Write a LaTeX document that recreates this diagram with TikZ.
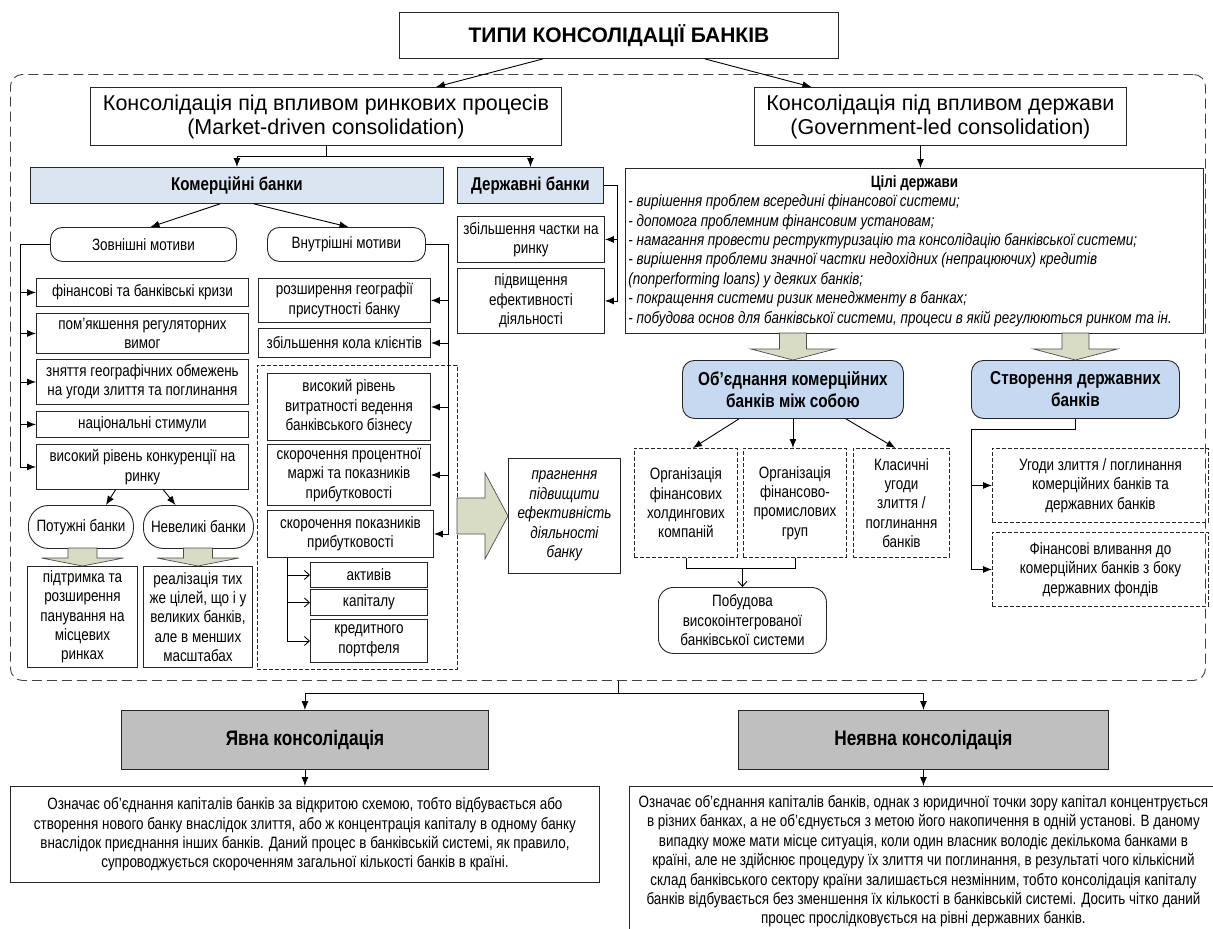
\documentclass[tikz,border=0pt]{standalone}
\usepackage{fontspec}
\setmainfont{Liberation Sans}[FakeStretch=0.82]
\newfontfamily\wideface{Liberation Sans}
\usepackage{tikz}
\usetikzlibrary{positioning}
\usetikzlibrary{arrows.meta}
\definecolor{bankblue}{RGB}{219,229,241}
\definecolor{unionblue}{RGB}{198,217,241}
\definecolor{kindgray}{RGB}{191,191,191}
\definecolor{blockgreen}{RGB}{216,220,196}
\newcommand\bodysize{\fontsize{16.4}{19.4}\selectfont}
\tikzset{arr/.style = {-{Latex[length=9pt,width=7pt]}}}
\tikzset{openarr/.style = {-{Straight Barb[length=5pt,width=9pt]}}}
\tikzset{blk/.style = {draw=black!70,fill=blockgreen,line width=0.7pt}}

\begin{document}
\begin{tikzpicture}[x=1pt,y=-1pt,line width=0.9pt,
    every node/.style={font=\bodysize},
    box/.style={draw=black!85,anchor=north west,align=center,inner sep=1.5pt},
    motive/.style={box,rounded corners=12pt},
    dashbox/.style={box,dash pattern=on 4pt off 2pt},
    bankbox/.style={box,fill=bankblue,font=\bfseries\fontsize{18.5}{22}\selectfont},
    unionbox/.style={box,rounded corners=12pt,fill=unionblue,font=\bfseries\fontsize{18.7}{22}\selectfont},
    kindbox/.style={box,fill=kindgray,font=\bfseries\fontsize{21}{24}\selectfont},
    wide/.style={font=\wideface\fontsize{21.5}{24}\selectfont}]
\useasboundingbox (0,0) rectangle (1213,929);

% outer frame
\node[draw=black!75,dash pattern=on 10pt off 5pt,rounded corners=12pt,anchor=north west,
      minimum width=1195,minimum height=606] (frame) at (10,74) {};

% top level
\node[box,minimum width=439,minimum height=46,font=\wideface\bfseries\fontsize{21}{24}\selectfont] (title) at (399,12) {ТИПИ КОНСОЛІДАЦІЇ БАНКІВ};
\node[box,wide,minimum width=471,minimum height=58] (market) at (90,87) {Консолідація під впливом ринкових процесів\\(Market-driven consolidation)};
\node[box,wide,minimum width=372,minimum height=58] (gov) at (754,87) {Консолідація під впливом держави\\(Government-led consolidation)};

% market-driven side
\node[bankbox,minimum width=413,minimum height=36] (commercial) at (30,167) {Комерційні банки};
\node[bankbox,minimum width=146,minimum height=36] (state) at (457,167) {Державні банки};

\node[motive,minimum width=186,minimum height=34] (outer) at (50,227) {Зовнішні мотиви};
\node[motive,minimum width=158,minimum height=34] (inner) at (267,227) {Внутрішні мотиви};

\node[box,minimum width=212,minimum height=28] (crisis) at (36,278) {фінансові та банківські кризи};
\node[box,minimum width=212,minimum height=40] (soften) at (36,313) {пом’якшення регуляторних\\вимог};
\node[box,minimum width=212,minimum height=45] (geo) at (36,359) {зняття географічних обмежень\\на угоди злиття та поглинання};
\node[box,minimum width=212,minimum height=26] (stimul) at (36,411) {національні стимули};
\node[box,minimum width=212,minimum height=45] (compet) at (36,444) {високий рівень конкуренції на\\ринку};

\node[motive,rounded corners=20pt,minimum width=105,minimum height=43] (strong) at (28,505) {Потужні банки};
\node[motive,rounded corners=20pt,minimum width=110,minimum height=43] (small) at (143,505) {Невеликі банки};
\node[box,minimum width=110,minimum height=101] (support) at (27,566) {підтримка та\\розширення\\панування на\\місцевих\\ринках};
\node[box,minimum width=109,minimum height=101] (same) at (143,566) {реалізація тих\\же цілей, що і у\\великих банків,\\але в менших\\масштабах};

\node[box,minimum width=172,minimum height=44] (expand) at (258,278) {розширення географії\\присутності банку};
\node[box,minimum width=172,minimum height=29] (clients) at (258,328) {збільшення кола клієнтів};
\node[dashbox,minimum width=200,minimum height=304] (costzone) at (257,365) {};
\node[box,minimum width=163,minimum height=67] (costs) at (267,373) {високий рівень\\витратності ведення\\банківського бізнесу};
\node[box,minimum width=163,minimum height=61] (margin) at (267,444) {скорочення процентної\\маржі та показників\\прибутковості};
\node[box,minimum width=166,minimum height=47] (profit) at (267,510) {скорочення показників\\прибутковості};
\node[box,minimum width=117,minimum height=25] (assets) at (310,562) {активів};
\node[box,minimum width=117,minimum height=26] (capital) at (310,589) {капіталу};
\node[box,minimum width=117,minimum height=43] (credit) at (310,619) {кредитного\\портфеля};

\node[box,minimum width=147,minimum height=46] (share) at (457,216) {збільшення частки на\\ринку};
\node[box,minimum width=147,minimum height=65] (effic) at (457,268) {підвищення\\ефективності\\діяльності};

\node[box,minimum width=112,minimum height=115,font=\bodysize\itshape] (aim) at (508,458) {прагнення\\підвищити\\ефективність\\діяльності\\банку};

% government-led side
\node[box,minimum width=578,minimum height=165,text width=572,align=flush left,inner sep=3pt] (goals) at (625,168)
  {\makebox[572pt]{\bfseries Цілі держави}\\\itshape
   - вирішення проблем всередині фінансової системи;\\
   - допомога проблемним фінансовим установам;\\
   - намагання провести реструктуризацію та консолідацію банківської системи;\\
   - вирішення проблеми значної частки недохідних (непрацюючих) кредитів\\
   (nonperforming loans) у деяких банків;\\
   - покращення системи ризик менеджменту в банках;\\
   - побудова основ для банківської системи, процеси в якій регулюються ринком та ін.};

\node[unionbox,minimum width=221,minimum height=58] (union) at (682,360) {Об'єднання комерційних\\банків між собою};
\node[unionbox,minimum width=208,minimum height=58] (create) at (971,360) {Створення державних\\банків};

\node[dashbox,minimum width=103,minimum height=109] (holding) at (634,448) {Організація\\фінансових\\холдингових\\компаній};
\node[dashbox,minimum width=103,minimum height=109] (fig) at (743,448) {Організація\\фінансово-\\промислових\\груп};
\node[dashbox,minimum width=96,minimum height=109] (classic) at (853,448) {Класичні\\угоди\\злиття /\\поглинання\\банків};
\node[box,rounded corners=15pt,minimum width=168,minimum height=66] (build) at (658,587) {Побудова\\високоінтегрованої\\банківської системи};
\node[dashbox,minimum width=216,minimum height=74] (deals) at (992,448) {Угоди злиття / поглинання\\комерційних банків та\\державних банків};
\node[dashbox,minimum width=216,minimum height=74] (inject) at (992,532) {Фінансові вливання до\\комерційних банків з боку\\державних фондів};

% explicit / implicit
\node[kindbox,minimum width=367,minimum height=59] (explicit) at (121,710) {Явна консолідація};
\node[kindbox,minimum width=370,minimum height=59] (implicit) at (738,710) {Неявна консолідація};
\node[box,minimum width=589,minimum height=96] (expltext) at (10,786)
  {Означає об’єднання капіталів банків за відкритою схемою, тобто відбувається або\\
   створення нового банку внаслідок злиття, або ж концентрація капіталу в одному банку\\
   внаслідок приєднання інших банків. Даний процес в банківській системі, як правило,\\
   супроводжується скороченням загальної кількості банків в країні.};
\node[box,minimum width=588,minimum height=150] (impltext) at (629,786)
  {Означає об’єднання капіталів банків, однак з юридичної точки зору капітал концентрується\\
   в різних банках, а не об’єднується з метою його накопичення в одній установі. В даному\\
   випадку може мати місце ситуація, коли один власник володіє декількома банками в\\
   країні, але не здійснює процедуру їх злиття чи поглинання, в результаті чого кількісний\\
   склад банківського сектору країни залишається незмінним, тобто консолідація капіталу\\
   банків відбувається без зменшення їх кількості в банківській системі. Досить чітко даний\\
   процес прослідковується на рівні державних банків.};

% connectors
\draw[arr] ([xshift=-76]title.south) -- ([xshift=110]market.north);
\draw[arr] ([xshift=86]title.south) -- ([xshift=-129]gov.north);
\draw (market.south) -- ++(0,11) coordinate (mk);
\draw[arr] (mk) -| (commercial.north);
\draw[arr] (mk) -| (state.north);
\draw[arr] ([xshift=-20]gov.south) -- ([xshift=-20]gov.south |- goals.north);

\draw[arr] ([xshift=-17]commercial.south) -- ([xshift=7]outer.north);
\draw[arr] ([xshift=17]commercial.south) -- ([xshift=2]inner.north);

\draw (outer.west) -- ++(-30,0) coordinate (ol) -- (ol |- compet.west);
\foreach \n in {crisis,soften,geo,stimul,compet}
  \draw[arr] (ol |- \n.west) -- (\n.west);

\draw (inner.east) -- ++(23,0) coordinate (ir) -- (ir |- profit.east);
\foreach \n in {expand,clients,costs,margin,profit}
  \draw[arr] (ir |- \n.east) -- (\n.east);

\draw (state.east) -- ++(14,0) coordinate (sr) -- (sr |- effic.east);
\foreach \n in {share,effic}
  \draw[arr] (sr |- \n.east) -- (\n.east);

\draw[arr] ([xshift=-27]compet.south) -- ([xshift=25]strong.north);
\draw[arr] ([xshift=21]compet.south) -- ([xshift=-23]small.north);

\foreach \n in {assets,capital,credit}
  \draw[openarr] ([xshift=20]profit.south west) |- (\n.west);

\draw[arr] ([xshift=-54]union.south) -- ([xshift=7]holding.north);
\draw[arr] (union.south) -- (union.south |- fig.north);
\draw[arr] ([xshift=53]union.south) -- ([xshift=-6]classic.north);
\draw (holding.south) -- ++(0,11) coordinate (hb) -- (hb -| fig.south) -- (fig.south);
\draw[openarr] (hb -| build.north) -- (build.north);

\draw (create.south) |- ([yshift=-11]create.south west) coordinate (cl) -- (cl |- inject.west);
\foreach \n in {deals,inject}
  \draw[arr] (cl |- \n.west) -- (\n.west);

\draw ([xshift=10]frame.south) -- ++(0,13) coordinate (hub);
\draw[arr] (hub) -| (explicit.north);
\draw[arr] (hub) -| (implicit.north);
\draw[arr] (explicit.south) -- (expltext.north);
\draw[arr] (implicit.south) -- (implicit.south |- impltext.north);

% block arrows
\path[blk] (support.north) -- ++(-41,-8) -- ++(26.5,0) -- ++(0,-10) -- ++(29,0) -- ++(0,10) -- ++(26.5,0) -- cycle;
\path[blk] (same.north) -- ++(-41,-8) -- ++(26.5,0) -- ++(0,-10) -- ++(29,0) -- ++(0,10) -- ++(26.5,0) -- cycle;
\path[blk] (union.north) -- ++(-42,-11) -- ++(28.5,0) -- ++(0,-16) -- ++(27,0) -- ++(0,16) -- ++(28.5,0) -- cycle;
\path[blk] (create.north) -- ++(-42,-11) -- ++(28.5,0) -- ++(0,-16) -- ++(27,0) -- ++(0,16) -- ++(28.5,0) -- cycle;
\path[blk] (aim.west) -- ++(-23,43) -- ++(0,-25) -- ++(-28,0) -- ++(0,-36) -- ++(28,0) -- ++(0,-25) -- cycle;
\end{tikzpicture}
\end{document}
